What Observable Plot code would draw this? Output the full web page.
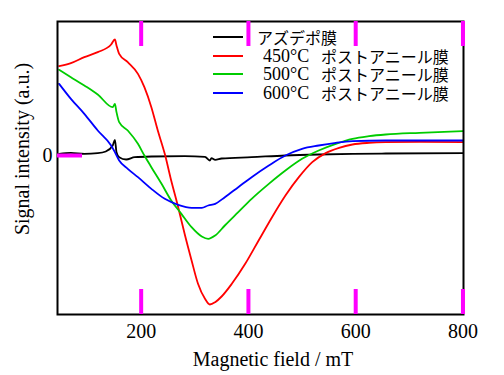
<!DOCTYPE html>
<html><head><meta charset="utf-8">
<script src="https://cdn.jsdelivr.net/npm/d3@7"></script>
<script src="https://cdn.jsdelivr.net/npm/@observablehq/plot@0.6"></script>
<style>
body{margin:0;background:#fff;}
#wrap{position:relative;width:504px;height:375px;}
#wrap, #wrap svg, #wrap svg text{font-family:"Liberation Serif","Times New Roman","DejaVu Serif",serif !important;}
.ov{position:absolute;color:#000;white-space:nowrap;line-height:1;}
.ov.jp{font-family:"Noto Sans CJK JP",sans-serif !important;font-size:16px;}
.ov.num{font-size:18px;}
.sw{position:absolute;width:30px;height:2px;}
</style></head>
<body><div id="wrap"></div>
<script>
const seriesNames = ["アズデポ膜", "450°C", "500°C", "600°C"];
const seriesSuffix = ["", "ポストアニール膜", "ポストアニール膜", "ポストアニール膜"];
const seriesColors = ["#000000", "#ff0000", "#00cc00", "#0000ff"];

const fieldAsDep = [47,69,94,119,134,147,151,154,159,172,188,219,281,319,328,331,338,350,406,469,531,594,656,800];
const valAsDep = [0.05,0.08,0.05,0.07,0.12,0.30,0.47,0.10,-0.05,-0.12,-0.05,-0.03,-0.02,-0.04,-0.15,-0.08,-0.13,-0.09,-0.05,0.00,0.03,0.05,0.06,0.07];

const field450 = [47,69,94,119,144,151,154,159,175,194,206,219,231,244,256,269,281,294,306,319,328,338,350,369,394,419,444,469,494,519,544,569,594,625,656,719,800];
const val450 = [2.68,2.77,2.95,3.10,3.33,3.48,3.30,3.05,2.80,2.45,2.05,1.45,0.75,0.05,-0.75,-1.55,-2.35,-3.15,-3.85,-4.30,-4.47,-4.40,-4.23,-3.85,-3.25,-2.55,-1.85,-1.20,-0.65,-0.20,0.07,0.23,0.33,0.38,0.40,0.41,0.40];

const field500 = [47,69,94,119,147,151,154,159,175,194,206,219,238,256,275,294,313,325,338,356,381,406,438,469,500,531,563,594,625,656,719,800];
const val500 = [2.57,2.35,2.10,1.83,1.45,1.55,1.30,1.00,0.75,0.35,0.00,-0.35,-0.85,-1.35,-1.75,-2.15,-2.43,-2.50,-2.40,-2.10,-1.70,-1.30,-0.85,-0.45,-0.10,0.15,0.35,0.50,0.58,0.63,0.68,0.73];

const field600 = [47,69,94,119,144,151,159,175,194,219,244,269,294,313,325,338,356,381,406,438,469,500,531,563,594,656,719,800];
const val600 = [2.15,1.70,1.25,0.75,0.30,0.10,-0.15,-0.40,-0.65,-1.00,-1.30,-1.48,-1.57,-1.57,-1.50,-1.45,-1.25,-0.95,-0.65,-0.30,0.00,0.20,0.30,0.38,0.43,0.45,0.45,0.45];

const xTicks = [200, 400, 600, 800];
const yTicks = [0];
const xLabel = "Magnetic field / mT";
const yLabel = "Signal intensity (a.u.)";

const fields = [fieldAsDep, field450, field500, field600];
const vals = [valAsDep, val450, val500, val600];
const data = [];
fields.forEach((f, s) => f.forEach((x, i) => data.push({s, x, y: vals[s][i]})));

const W = 504, H = 375, mL = 57, mR = 41, mT = 21, mB = 61;
const xDom = [44, 801], yDom = [-4.77, 4.02];
const tickPx = 25;
const tickColor = "magenta";
const yTickLen = tickPx * (yDom[1] - yDom[0]) / (H - mT - mB);
const xTickLen = tickPx * (xDom[1] - xDom[0]) / (W - mL - mR);

const plot = Plot.plot({
  width: W, height: H,
  marginLeft: mL, marginRight: mR, marginTop: mT, marginBottom: mB,
  style: {fontSize: "20px", color: "#000", background: "#fff"},
  x: {domain: xDom, ticks: xTicks, tickSize: 0, tickPadding: 9, label: null},
  y: {domain: yDom, ticks: yTicks, tickSize: 0, tickPadding: 5, label: null},
  marks: [
    Plot.line(data, {x: "x", y: "y", z: "s", stroke: d => seriesColors[d.s], strokeWidth: 1.8, curve: "monotone-x"}),
    Plot.frame({stroke: "#000", strokeWidth: 2}),
    Plot.ruleX(xTicks, {y1: yDom[0], y2: yDom[0] + yTickLen, stroke: tickColor, strokeWidth: 4}),
    Plot.ruleX(xTicks, {y1: yDom[1], y2: yDom[1] - yTickLen, stroke: tickColor, strokeWidth: 4}),
    Plot.ruleY(yTicks, {x1: xDom[0], x2: xDom[0] + xTickLen, stroke: tickColor, strokeWidth: 4})
  ]
});
const wrap = document.getElementById("wrap");
wrap.appendChild(plot);

function ov(html, cls, css) {
  const d = document.createElement("div");
  d.className = "ov " + cls;
  d.textContent = html;
  Object.assign(d.style, css);
  wrap.appendChild(d);
  return d;
}
ov(xLabel, "", {left: "273px", top: "349px", fontSize: "20px", transform: "translateX(-50%)"});
ov(yLabel, "", {left: "22px", top: "149px", fontSize: "20px", transform: "translate(-50%,-50%) rotate(-90deg)"});

const rowY = [37, 55.5, 74, 92.5];
seriesNames.forEach((n, i) => {
  const sw = document.createElement("div");
  sw.className = "sw";
  Object.assign(sw.style, {left: "213px", top: (rowY[i] - 1) + "px", background: seriesColors[i]});
  wrap.appendChild(sw);
  if (seriesSuffix[i]) {
    ov(n, "num", {left: "263px", top: (rowY[i] - 9) + "px"});
    ov(seriesSuffix[i], "jp", {left: "321px", top: (rowY[i] - 8) + "px"});
  } else {
    ov(n, "jp", {left: "257px", top: (rowY[i] - 8) + "px"});
  }
});
</script></body></html>
